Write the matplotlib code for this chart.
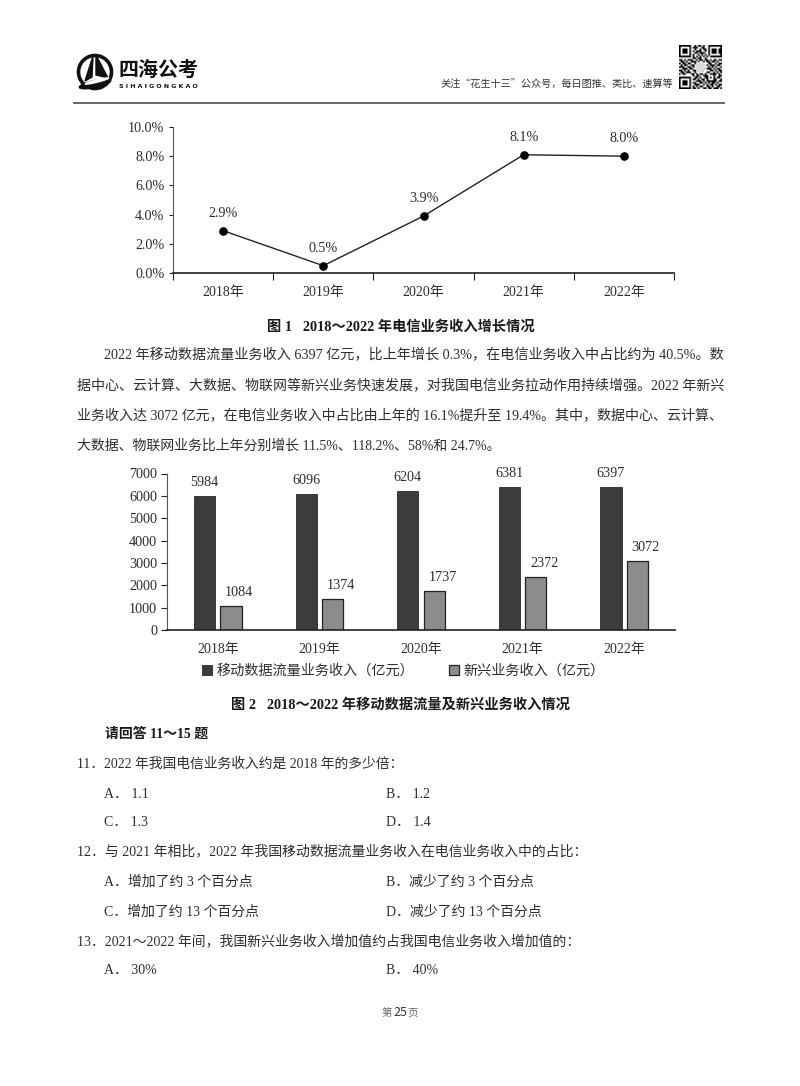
import matplotlib
matplotlib.use('Agg')
import matplotlib.pyplot as plt
import numpy as np
from matplotlib.patches import Circle, Polygon, Ellipse

FONT = ['Liberation Serif', 'Noto Sans CJK SC']
SANS = ['Noto Sans CJK SC', 'DejaVu Sans']
INK = '#2e2e2e'
W, H = 800, 1086

years = ['2018年', '2019年', '2020年', '2021年', '2022年']
growth = [2.9, 0.5, 3.9, 8.1, 8.0]
growth_ticks = [0, 2, 4, 6, 8, 10]
mobile = [5984, 6096, 6204, 6381, 6397]
emerging = [1084, 1374, 1737, 2372, 3072]
bar_ticks = [0, 1000, 2000, 3000, 4000, 5000, 6000, 7000]

qr_rows = [
    '1111111001011010011111111', '1000001011100110010000001', '1011101001001011010111011',
    '1011101010111001010111011', '1011101001101110010111011', '1000001010010101010000001',
    '1111111010101010101111111', '0000000011011001000000000', '1101011100101101101011011',
    '0110100111010010110110100', '1011011001000000011001011', '0101100110011100101110110',
    '1110011010111110010101001', '0011101100111110111010110', '1101010011011100001101011',
    '0110111001000000110010101', '1011000110101101001111010', '0000000010110011100010011',
    '1111111001101001101010110', '1000001011010110100011001', '1011101000111010111111011',
    '1011101011001101010110100', '1011101001110010101101011', '1000001010101100110100110',
    '1111111011010011011011101',
]

fig = plt.figure(figsize=(W / 100, H / 100), dpi=100, facecolor='white')
page = fig.add_axes([0, 0, 1, 1])
page.set_axis_off()


def px_axes(left, top, right, bottom):
    return fig.add_axes([left / W, 1 - bottom / H, (right - left) / W, (bottom - top) / H])


def put(text, x, y, size=10, end=None, bold=False, ha='left', color=INK, family=FONT):
    # y = middle of the line, end = right edge in pixels (font size is nudged to fill up to there)
    t = page.text(x, y + 4.5, text, fontsize=size, ha=ha, va='baseline', color=color, family=family,
                  fontweight='bold' if bold else 'normal')
    if end is not None:
        r = fig.canvas.get_renderer()
        t.set_fontsize(size * (end - x) / t.get_window_extent(r).width)
    return t


page.set_xlim(0, W)
page.set_ylim(H, 0)

# header: logo
page.add_patch(Circle((95, 72), 16.5, fill=False, ec='#111111', lw=2.6))
page.add_patch(Polygon([(93, 56), (85, 81), (92, 77)], color='#111111'))
page.add_patch(Polygon([(96, 55), (108, 78), (96, 75)], color='#111111'))
page.add_patch(Ellipse((95, 84), 32, 7, angle=-12, color='#111111'))
page.add_patch(Ellipse((97, 81), 24, 2.4, angle=-14, color='white'))
put('四海公考', 119, 71, 15, end=199, bold=True, color='#111111', family=SANS)
put('S I H A I G O N G K A O', 119, 84, 4.6, end=199, bold=True, color='#111111', family=['DejaVu Sans'])
put('关注“花生十三”公众号，每日图推、类比、速算等', 440, 83, 7.2, end=673, color='#333333', family=SANS)
qr = np.array([[int(c) for c in row] for row in qr_rows])
page.imshow(1 - qr, cmap='gray', extent=(679, 722, 89, 45), interpolation='bilinear', aspect='auto', zorder=2)
page.add_patch(Circle((700, 67), 4.5, color='#dddddd', zorder=3))
page.set_xlim(0, W)
page.set_ylim(H, 0)
page.plot([74, 724], [103, 103], color='#666666', lw=1.4)

# figure 1
ax1 = px_axes(173, 127, 674, 273)
ax1.plot(range(5), growth, color='#222222', lw=1.0, marker='o', ms=5.2, mfc='black', mec='black', clip_on=False)
for i, v in enumerate(growth):
    ax1.annotate(f'{v:.1f}%', (i, v), xytext=(0, 12.7), textcoords='offset points', ha='center', va='center',
                 fontsize=10.2, color=INK, family=FONT)
ax1.set_xlim(-0.5, 4.5)
ax1.set_ylim(0, 10)
ax1.set_yticks(growth_ticks)
ax1.set_yticklabels([f'{v:.1f}%' for v in growth_ticks], fontsize=10.2, color=INK, family=FONT)
ax1.set_xticks(np.arange(-0.5, 5))
ax1.set_xticklabels([])
ax1.set_xticks(range(5), minor=True)
ax1.set_xticklabels(years, minor=True, fontsize=10, color=INK, family=FONT)
ax1.tick_params(axis='x', which='major', length=5, width=0.8, color='#222222')
ax1.tick_params(axis='x', which='minor', length=0, pad=9)
ax1.tick_params(axis='y', length=3, width=0.8, color='#222222', pad=3.2)
ax1.spines[['top', 'right']].set_visible(False)
ax1.spines['left'].set_color('#555555')
ax1.spines['bottom'].set_color('#222222')
ax1.spines['bottom'].set_linewidth(1.2)
put('图 1   2018～2022 年电信业务收入增长情况', 267, 326, 9.8, end=534, bold=True, color='#1a1a1a')

# body text
put('2022 年移动数据流量业务收入 6397 亿元，比上年增长 0.3%，在电信业务收入中占比约为 40.5%。数', 104, 355, end=724)
put('据中心、云计算、大数据、物联网等新兴业务快速发展，对我国电信业务拉动作用持续增强。2022 年新兴', 77, 386, end=724)
put('业务收入达 3072 亿元，在电信业务收入中占比由上年的 16.1%提升至 19.4%。其中，数据中心、云计算、', 77, 416, end=724)
put('大数据、物联网业务比上年分别增长 11.5%、118.2%、58%和 24.7%。', 77, 445, end=502)

# figure 2
ax2 = px_axes(167, 473.5, 675, 630)
x = np.arange(5)
b1 = ax2.bar(x - 0.13, mobile, 0.21, color='#3c3c3c', edgecolor='#2a2a2a', lw=0.6, label='移动数据流量业务收入（亿元）')
b2 = ax2.bar(x + 0.13, emerging, 0.21, color='#8c8c8c', edgecolor='#222222', lw=0.9, label='新兴业务收入（亿元）')
for i in range(5):
    ax2.annotate(str(mobile[i]), (x[i] - 0.13, mobile[i]), xytext=(0, 9.8), textcoords='offset points',
                 ha='center', va='center', fontsize=10.2, color=INK, family=FONT)
    ax2.annotate(str(emerging[i]), (x[i] + 0.13, emerging[i]), xytext=(6, 9.8), textcoords='offset points',
                 ha='center', va='center', fontsize=10.2, color=INK, family=FONT)
ax2.set_xlim(-0.5, 4.5)
ax2.set_ylim(0, 7000)
ax2.set_yticks(bar_ticks)
ax2.set_yticklabels(bar_ticks, fontsize=10.2, color=INK, family=FONT)
ax2.set_xticks(x)
ax2.set_xticklabels(years, fontsize=10, color=INK, family=FONT)
ax2.tick_params(axis='x', length=0, pad=9)
ax2.tick_params(axis='y', length=4, width=0.8, color='#222222', pad=3)
ax2.spines[['top', 'right']].set_visible(False)
ax2.spines['left'].set_color('#555555')
ax2.spines['bottom'].set_color('#222222')
ax2.spines['bottom'].set_linewidth(1.2)
ax2.legend(handles=[b1, b2], ncol=2, frameon=False, loc='center left', bbox_to_anchor=(35 / 508, -41 / 156.5),
           borderaxespad=0, borderpad=0, handlelength=0.7, handleheight=0.7, handletextpad=0.3, columnspacing=2.5,
           prop={'family': SANS, 'size': 10.2}, labelcolor=INK)
put('图 2   2018～2022 年移动数据流量及新兴业务收入情况', 231, 704, 9.8, end=570, bold=True, color='#1a1a1a')

# questions
put('请回答 11～15 题', 105, 733, 9.8, end=209, bold=True, color='#1a1a1a')
put('11．2022 年我国电信业务收入约是 2018 年的多少倍：', 77, 763, end=404)
put('A． 1.1', 104, 793)
put('B． 1.2', 386, 793)
put('C． 1.3', 104, 822)
put('D． 1.4', 386, 822)
put('12．与 2021 年相比，2022 年我国移动数据流量业务收入在电信业务收入中的占比：', 77, 851, end=587)
put('A．增加了约 3 个百分点', 104, 881)
put('B．减少了约 3 个百分点', 386, 881)
put('C．增加了约 13 个百分点', 104, 911)
put('D．减少了约 13 个百分点', 386, 911)
put('13．2021～2022 年间，我国新兴业务收入增加值约占我国电信业务收入增加值的：', 77, 941, end=580)
put('A． 30%', 104, 970)
put('B． 40%', 386, 970)

# footer
put('第', 387, 1011, 7.5, ha='center', color='#666666', family=SANS)
put('25', 400, 1011, 9, ha='center', color='#333333', family=SANS)
put('页', 413, 1011, 7.5, ha='center', color='#666666', family=SANS)

fig.savefig('out.png', dpi=100)
